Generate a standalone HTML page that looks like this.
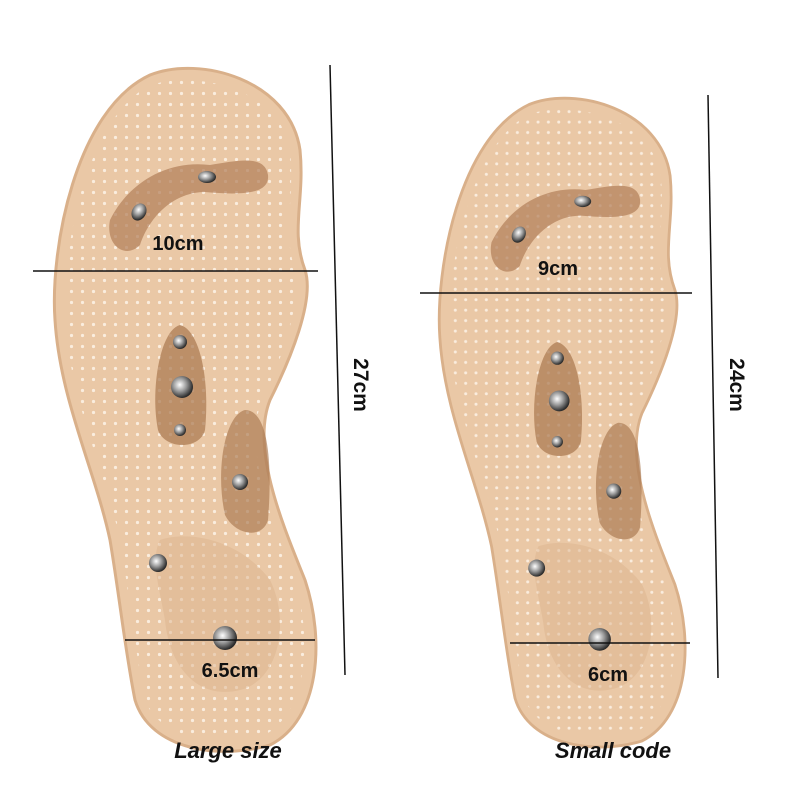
<!DOCTYPE html>
<html><head><meta charset="utf-8"><style>
html,body{margin:0;padding:0;background:#fff;}
svg{display:block}
text{font-family:"Liberation Sans",sans-serif;font-weight:bold;fill:#111;}
</style></head><body>
<svg width="800" height="800" viewBox="0 0 800 800" xmlns="http://www.w3.org/2000/svg">
<defs>
<pattern id="dots" width="11" height="11" patternUnits="userSpaceOnUse">
<circle cx="5.5" cy="5.5" r="1.6" fill="#fdf3e8"/>
</pattern>
<radialGradient id="mag" cx="40%" cy="40%" r="60%">
<stop offset="0" stop-color="#ffffff"/><stop offset="0.5" stop-color="#9a9a9a"/><stop offset="1" stop-color="#2a2a2a"/>
</radialGradient>
<g id="sole">
<path d="M150,75 C200,55 290,80 300,150 C305,200 290,230 305,270 C315,300 290,360 270,400 C250,450 285,530 305,580 C325,640 320,720 270,745 C220,760 150,750 135,700 C125,650 120,600 110,540 C95,470 60,400 55,320 C50,250 75,110 150,75 Z" fill="#eac8a6" stroke="#d9b08a" stroke-width="3"/>
<path d="M150,85 C200,70 280,90 290,150 C295,200 282,230 295,270 C302,300 282,360 262,400 C242,450 275,530 295,580 C312,640 308,710 265,735 C220,748 160,740 145,700 C135,650 130,600 120,540 C105,470 70,400 65,320 C62,250 85,120 150,85 Z" fill="url(#dots)" opacity="0.85"/>
<path d="M110,220 C130,180 170,160 210,165 C240,160 265,155 268,175 C270,195 240,195 205,192 C175,192 150,215 140,245 C125,260 105,245 110,220 Z" fill="#b07e58" opacity="0.7"/>
<path d="M180,325 C200,330 210,380 205,430 C200,450 165,450 158,430 C150,390 160,330 180,325 Z" fill="#a8764f" opacity="0.7"/>
<path d="M245,410 C270,410 272,470 268,520 C262,540 235,535 225,515 C215,470 225,415 245,410 Z" fill="#a8764f" opacity="0.65"/>
<path d="M160,540 C190,530 240,540 270,580 C290,620 280,680 240,690 C200,700 170,670 165,620 C160,590 150,560 160,540 Z" fill="#dcb38e" opacity="0.5"/>
<ellipse cx="207" cy="177" rx="9" ry="6" fill="url(#mag)"/>
<ellipse cx="139" cy="212" rx="7" ry="9" fill="url(#mag)" transform="rotate(30 139 212)"/>
<circle cx="180" cy="342" r="7" fill="url(#mag)"/>
<circle cx="182" cy="387" r="11" fill="url(#mag)"/>
<circle cx="180" cy="430" r="6" fill="url(#mag)"/>
<circle cx="240" cy="482" r="8" fill="url(#mag)"/>
<circle cx="158" cy="563" r="9" fill="url(#mag)"/>
<circle cx="225" cy="638" r="12" fill="url(#mag)"/>
</g>
</defs>
<use href="#sole"/>
<g transform="translate(437,95) scale(0.94,0.95) translate(-52,-65)"><use href="#sole"/></g>

<g stroke="#111" stroke-width="1.5">
<line x1="33" y1="271" x2="318" y2="271"/>
<line x1="330" y1="65" x2="345" y2="675"/>
<line x1="125" y1="640" x2="315" y2="640"/>
<line x1="420" y1="293" x2="692" y2="293"/>
<line x1="708" y1="95" x2="718" y2="678"/>
<line x1="510" y1="643" x2="690" y2="643"/>
</g>
<text x="178" y="250" font-size="20" text-anchor="middle">10cm</text>
<text x="558" y="275" font-size="20" text-anchor="middle">9cm</text>
<text x="230" y="677" font-size="20" text-anchor="middle">6.5cm</text>
<text x="608" y="681" font-size="20" text-anchor="middle">6cm</text>
<text x="0" y="0" font-size="21" text-anchor="middle" transform="translate(354,385) rotate(90)">27cm</text>
<text x="0" y="0" font-size="21" text-anchor="middle" transform="translate(730,385) rotate(90)">24cm</text>
<text x="228" y="758" font-size="22" font-style="italic" text-anchor="middle">Large size</text>
<text x="613" y="758" font-size="22" font-style="italic" text-anchor="middle">Small code</text>
</svg>
</body></html>
